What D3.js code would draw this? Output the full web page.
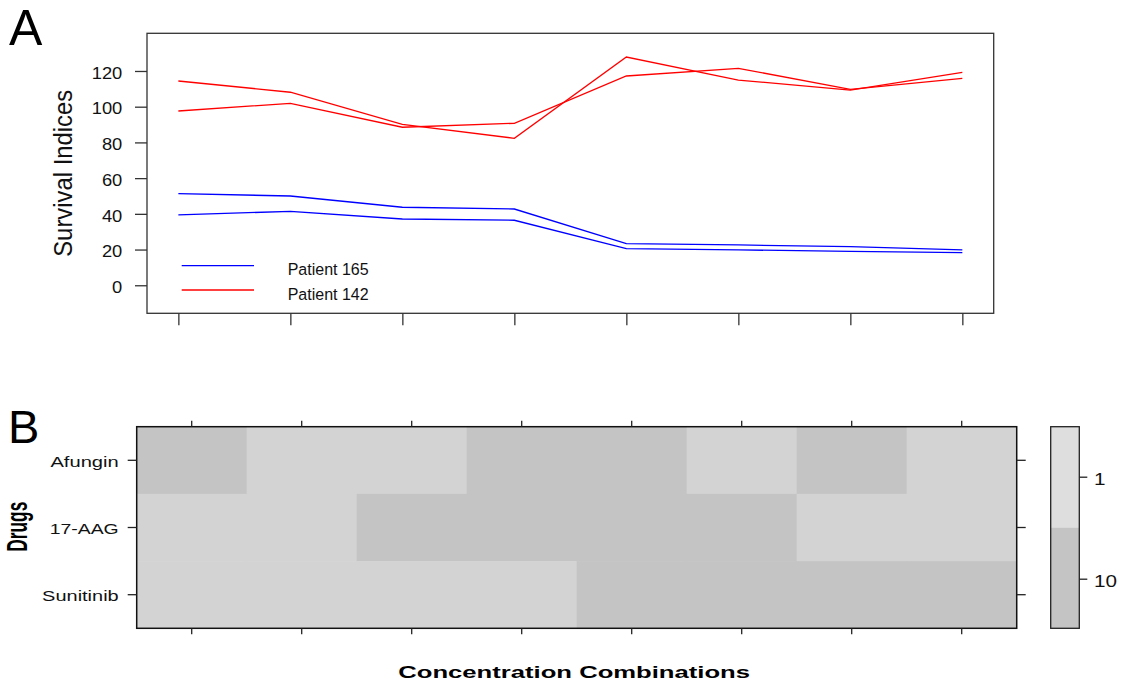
<!DOCTYPE html>
<html>
<head>
<meta charset="utf-8">
<script src="https://cdn.jsdelivr.net/npm/d3@7"></script>
<style>
  html, body { margin: 0; padding: 0; background: #fff; }
  svg { display: block; font-family: "Liberation Sans", Arial, sans-serif; }
</style>
</head>
<body>
<svg id="fig" width="1125" height="687"></svg>
<script>
// Concentration combinations (x positions 1..8)
const combos = [1, 2, 3, 4, 5, 6, 7, 8];

// Survival indices, two replicate curves per patient
const patient165a = [51.3, 50.0, 43.7, 42.7, 23.3, 22.6, 21.6, 19.8];
const patient165b = [39.4, 41.4, 37.1, 36.4, 20.5, 19.8, 19.0, 18.3];
const patient142a = [114.4, 108.1, 90.1, 82.3, 127.8, 114.9, 109.3, 119.2];
const patient142b = [97.6, 101.9, 88.5, 90.7, 117.2, 121.5, 109.7, 115.9];

const yTicks = [0, 20, 40, 60, 80, 100, 120];

// Drug concentration design (levels 1 or 10) per combination
const drugs = ["Afungin", "17-AAG", "Sunitinib"];
const afunginDose   = [10, 1, 1, 10, 10, 1, 10, 1];
const aagDose       = [1, 1, 10, 10, 10, 10, 1, 1];
const sunitinibDose = [1, 1, 1, 1, 10, 10, 10, 10];
const doseLevels = [1, 10];

const svg = d3.select("#fig");

// ---------- Panel A: survival indices ----------
const boxA = { left: 147, right: 993.7, top: 33.3, bottom: 313.3 };
const xA = d3.scaleLinear().domain([0.72, 8.28]).range([boxA.left, boxA.right]);
const yA = d3.scaleLinear().domain([-15.7, 141.1]).range([boxA.bottom, boxA.top]);

const gA = svg.append("g");

const line = d3.line().x((d, i) => xA(combos[i])).y(d => yA(d));
const seriesA = [
  { values: patient165a, color: "#0000ff" },
  { values: patient165b, color: "#0000ff" },
  { values: patient142a, color: "#ff0000" },
  { values: patient142b, color: "#ff0000" }
];
gA.selectAll("path.series").data(seriesA).join("path")
  .attr("class", "series")
  .attr("d", d => line(d.values))
  .attr("fill", "none")
  .attr("stroke", d => d.color)
  .attr("stroke-width", 1.3);

gA.append("rect")
  .attr("x", boxA.left).attr("y", boxA.top)
  .attr("width", boxA.right - boxA.left).attr("height", boxA.bottom - boxA.top)
  .attr("fill", "none").attr("stroke", "#333").attr("stroke-width", 1.3);

const axLeftA = gA.append("g")
  .attr("transform", `translate(${boxA.left},0)`)
  .call(d3.axisLeft(yA).tickValues(yTicks).tickSize(12).tickPadding(12.7));
axLeftA.select(".domain").remove();
axLeftA.selectAll("line").attr("stroke", "#333").attr("stroke-width", 1.3);
axLeftA.selectAll("text")
  .attr("font-size", 17.2).attr("fill", "#111")
  .attr("font-family", "Liberation Sans, Arial, sans-serif")
  .attr("dy", "0.42em")
  .attr("textLength", d => String(d).length * 10.2)
  .attr("lengthAdjust", "spacingAndGlyphs");

const axBottomA = gA.append("g")
  .attr("transform", `translate(0,${boxA.bottom})`)
  .call(d3.axisBottom(xA).tickValues(combos).tickSize(12).tickFormat(""));
axBottomA.select(".domain").remove();
axBottomA.selectAll("line").attr("stroke", "#333").attr("stroke-width", 1.3);

gA.append("text")
  .attr("transform", "translate(71.7,173.3) scale(1.13,1) rotate(-90)")
  .attr("text-anchor", "middle")
  .attr("font-size", 23).attr("fill", "#111")
  .attr("textLength", 167).attr("lengthAdjust", "spacingAndGlyphs")
  .text("Survival Indices");

// legend
const legend = [
  { label: "Patient 165", color: "#0000ff", y: 265.7 },
  { label: "Patient 142", color: "#ff0000", y: 290 }
];
const lg = gA.selectAll("g.legend").data(legend).join("g").attr("class", "legend");
lg.append("line")
  .attr("x1", 181.7).attr("x2", 254)
  .attr("y1", d => d.y).attr("y2", d => d.y)
  .attr("stroke", d => d.color).attr("stroke-width", 1.3);
lg.append("text")
  .attr("x", 287.7).attr("y", d => d.y + 9.5)
  .attr("font-size", 16.3).attr("fill", "#111")
  .attr("textLength", 81).attr("lengthAdjust", "spacingAndGlyphs")
  .text(d => d.label);

svg.append("text").attr("x", 9).attr("y", 45)
  .attr("font-size", 50).attr("fill", "#000").text("A");

// ---------- Panel B: drug concentration design ----------
const boxB = { left: 136.7, right: 1016.7, top: 426.7, bottom: 628.3 };
const xB = d3.scaleBand().domain(combos).range([boxB.left, boxB.right]);
const yB = d3.scaleBand().domain(drugs).range([boxB.top, boxB.bottom]);
const cellColor = d3.scaleOrdinal().domain(doseLevels).range(["#d3d3d3", "#c4c4c4"]);
const keyColor = d3.scaleOrdinal().domain(doseLevels).range(["#dedede", "#c4c4c4"]);

const doseRows = [afunginDose, aagDose, sunitinibDose];
const cells = [];
doseRows.forEach((row, r) => row.forEach((v, c) => cells.push({ drug: drugs[r], combo: combos[c], dose: v })));

const gB = svg.append("g");
gB.selectAll("rect.cell").data(cells).join("rect")
  .attr("class", "cell")
  .attr("x", d => xB(d.combo)).attr("y", d => yB(d.drug))
  .attr("width", xB.bandwidth() + 0.5).attr("height", yB.bandwidth() + 0.5)
  .attr("fill", d => cellColor(d.dose));

gB.append("rect")
  .attr("x", boxB.left).attr("y", boxB.top)
  .attr("width", boxB.right - boxB.left).attr("height", boxB.bottom - boxB.top)
  .attr("fill", "none").attr("stroke", "#111").attr("stroke-width", 1.5);

function styleTicks(g) {
  g.select(".domain").remove();
  g.selectAll("line").attr("stroke", "#222").attr("stroke-width", 1.3);
}

gB.append("g").attr("transform", `translate(0,${boxB.top})`)
  .call(d3.axisTop(xB).tickSize(6).tickFormat("")).call(styleTicks);
gB.append("g").attr("transform", `translate(0,${boxB.bottom})`)
  .call(d3.axisBottom(xB).tickSize(6).tickFormat("")).call(styleTicks);
gB.append("g").attr("transform", `translate(${boxB.right},0)`)
  .call(d3.axisRight(yB).tickSize(9).tickFormat("")).call(styleTicks);

const rowLabelWidth = { "Afungin": 68.3, "17-AAG": 69, "Sunitinib": 76.6 };
const axLeftB = gB.append("g").attr("transform", `translate(${boxB.left},0)`)
  .call(d3.axisLeft(yB).tickSize(9).tickPadding(9)).call(styleTicks);
axLeftB.selectAll("text")
  .attr("font-size", 15.5).attr("fill", "#111")
  .attr("font-family", "Liberation Sans, Arial, sans-serif")
  .attr("dy", "0.43em")
  .attr("textLength", d => rowLabelWidth[d])
  .attr("lengthAdjust", "spacingAndGlyphs");

gB.append("text")
  .attr("transform", "translate(27.3,526.7) scale(1.27,1) rotate(-90)")
  .attr("text-anchor", "middle")
  .attr("font-size", 22.6).attr("font-weight", "bold").attr("fill", "#000")
  .attr("textLength", 50).attr("lengthAdjust", "spacingAndGlyphs")
  .text("Drugs");

gB.append("text")
  .attr("x", 398.3).attr("y", 678.3)
  .attr("font-size", 17.2).attr("font-weight", "bold").attr("fill", "#000")
  .attr("textLength", 351.7).attr("lengthAdjust", "spacingAndGlyphs")
  .text("Concentration Combinations");

// colour key
const key = { left: 1050.7, right: 1079.3, top: 426.7, bottom: 628.3 };
const yKey = d3.scaleBand().domain(doseLevels).range([key.top, key.bottom]);
gB.selectAll("rect.key").data(doseLevels).join("rect")
  .attr("class", "key")
  .attr("x", key.left).attr("y", d => yKey(d))
  .attr("width", key.right - key.left).attr("height", yKey.bandwidth())
  .attr("fill", d => keyColor(d));
gB.append("rect")
  .attr("x", key.left).attr("y", key.top)
  .attr("width", key.right - key.left).attr("height", key.bottom - key.top)
  .attr("fill", "none").attr("stroke", "#222").attr("stroke-width", 1.3);

const yKeyTicks = d3.scalePoint().domain(doseLevels).range([476.7, 578.7]);
const axKey = gB.append("g").attr("transform", `translate(${key.right},0)`)
  .call(d3.axisRight(yKeyTicks).tickSize(8).tickPadding(6.7)).call(styleTicks);
axKey.selectAll("text")
  .attr("font-size", 16.3).attr("fill", "#111")
  .attr("font-family", "Liberation Sans, Arial, sans-serif")
  .attr("dy", "0.45em")
  .attr("textLength", d => String(d).length * 11.5)
  .attr("lengthAdjust", "spacingAndGlyphs");

svg.append("text").attr("x", 8).attr("y", 442.7)
  .attr("font-size", 47).attr("fill", "#000").text("B");
</script>
</body>
</html>
